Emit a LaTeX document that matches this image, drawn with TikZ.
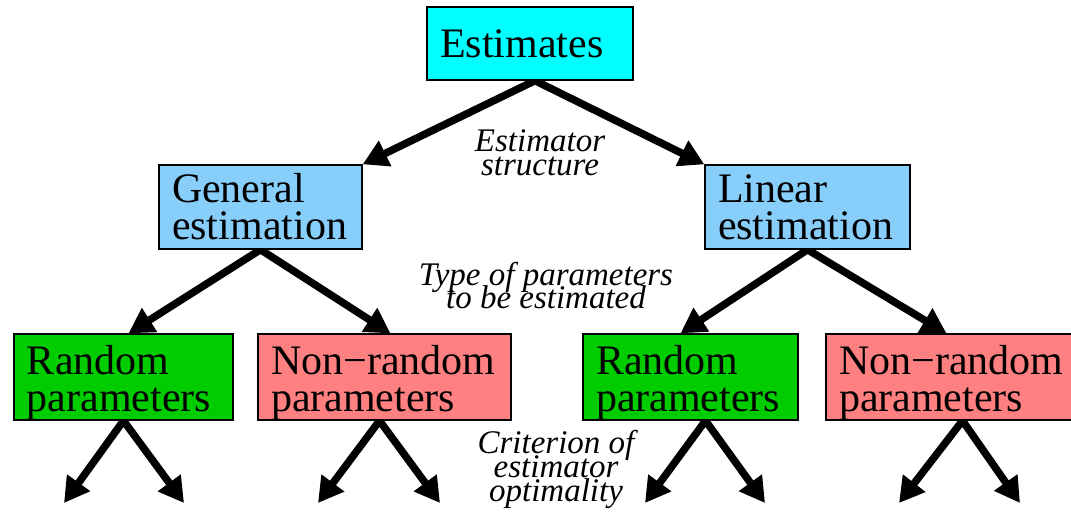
\documentclass[tikz,border=0pt]{standalone}
\usepackage{fontspec}
\setmainfont{Liberation Serif}
\usetikzlibrary{arrows.meta,backgrounds}

\definecolor{boxcyan}{RGB}{0,255,255}
\definecolor{boxblue}{RGB}{135,206,250}
\definecolor{boxgreen}{RGB}{0,204,0}
\definecolor{boxsalmon}{RGB}{255,128,128}

% extra height on a first line, to sit the two lines lower in their box
\newcommand{\dropstrut}{\rule{0pt}{40pt}}
% let lines stand closer than their glyphs would allow
\protected\def\tightlines{\lineskiplimit=-100pt\relax}

\begin{document}
\begin{tikzpicture}[x=1pt,y=-1pt,
  box/.style={draw=black, line width=1.3pt, inner xsep=13pt, inner ysep=0pt,
    align=left, font=\fontsize{42}{37}\selectfont\tightlines},
  note/.style={inner sep=0pt, align=center, anchor=north,
    font=\itshape\fontsize{33}{#1}\selectfont\tightlines},
  arr/.style={line width=7.5pt,
    arrows={Triangle[length=25pt,width=27pt]-Triangle[length=25pt,width=27pt]}},
]
\useasboundingbox (0,0) rectangle (1071,514);

% boxes
\node[box, fill=boxcyan,   text width=180pt, minimum height=73pt] (est) at (530,43.5) {Estimates};
\node[box, fill=boxblue,   text width=177pt, minimum height=84pt] (gen) at (260.5,207) {General\\estimation};
\node[box, fill=boxblue,   text width=179pt, minimum height=84pt] (lin) at (807.5,207) {Linear\\estimation};
\node[box, fill=boxgreen,  text width=193pt, minimum height=86pt] (r1) at (123.5,377) {\dropstrut Random\\parameters};
\node[box, fill=boxsalmon, text width=227pt, minimum height=86pt] (n1) at (384.5,377) {\dropstrut Non−random\\parameters};
\node[box, fill=boxgreen,  text width=189pt, minimum height=86pt] (r2) at (690.5,377) {\dropstrut Random\\parameters};
\node[box, fill=boxsalmon, text width=227pt, minimum height=86pt] (n2) at (952.5,377) {\dropstrut Non−random\\parameters};

% level labels
\node[note=24] (l1) at (540,129) {Estimator\\structure};
\node[note=23] (l2) at (546,262) {Type of parameters\\to be estimated};
\node[note=24] (l3) at (556,430) {Criterion of\\estimator\\optimality};

% free ends of the lowest arrows
\coordinate (r1a) at (64,503);
\coordinate (r1b) at (184,503);
\coordinate (n1a) at (318,503);
\coordinate (n1b) at (440,503);
\coordinate (r2a) at (645,503);
\coordinate (r2b) at (765,503);
\coordinate (n2a) at (899,503);
\coordinate (n2b) at (1020,503);

\begin{scope}[on background layer]
  \draw[arr] (gen.north east) -- ([xshift=5pt]est.south) -- (lin.north west);
  \draw[arr] ([xshift=5pt]r1.north) -- (gen.south) -- ([xshift=6pt]n1.north);
  \draw[arr] ([xshift=-10pt]r2.north) -- (lin.south) -- ([xshift=-6pt]n2.north);
  \draw[arr] (r1a) -- (r1.south) -- (r1b);
  \draw[arr] (n1a) -- ([xshift=-5pt]n1.south) -- (n1b);
  \draw[arr] (r2a) -- ([xshift=15pt]r2.south) -- (r2b);
  \draw[arr] (n2a) -- ([xshift=10pt]n2.south) -- (n2b);
\end{scope}
\end{tikzpicture}
\end{document}
